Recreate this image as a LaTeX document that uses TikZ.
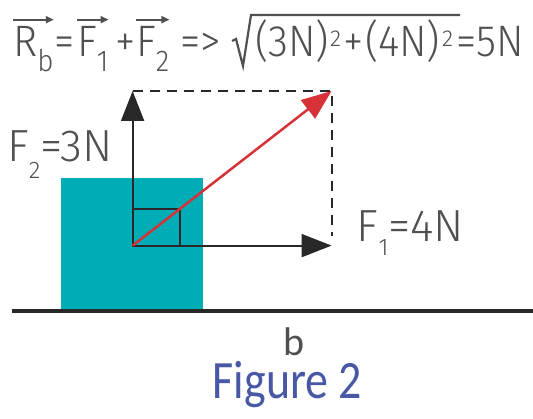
\documentclass[tikz,border=0pt]{standalone}
\usepackage{fontspec}
\usetikzlibrary{arrows.meta}
\newfontfamily\dinfont{Fira Sans Light}
\newfontfamily\calfont{Carlito}
\definecolor{textgray}{RGB}{80,80,80}
\definecolor{linegray}{RGB}{40,40,40}
\definecolor{boxteal}{RGB}{0,172,182}
\definecolor{vecred}{RGB}{214,50,56}
\definecolor{figblue}{RGB}{72,88,165}
\newcommand\dsub[3]{\raisebox{#1}{\fontsize{#2}{#2}\selectfont #3}}
\newcommand\nar[1]{\scalebox{0.93}[1]{#1}}
\begin{document}
\begin{tikzpicture}[x=1pt,y=-1pt,
  txt/.style={inner sep=0pt, anchor=base west, text=textgray, font=\dinfont\fontsize{44}{48}\selectfont},
  lbl/.style={inner sep=0pt, anchor=base west, text=textgray, font=\dinfont\fontsize{45}{50}\selectfont},
  vec/.style={draw=textgray, line width=1.8pt, -{Triangle[length=8pt,width=7pt]}},
  force/.style={draw=linegray, line width=2pt, -{Triangle[length=30pt,width=23pt]}},
  res/.style={draw=vecred, line width=2.5pt, -{Triangle[length=30pt,width=23pt]}},
  dashline/.style={draw=linegray, line width=2pt, dash pattern=on 10pt off 7pt},
  rad/.style={draw=textgray, line width=2.2pt, line join=miter}]
\useasboundingbox (0,0) rectangle (533,419);
% formula
\node[txt] (n1) at (13,57) {\nar{R\dsub{-15pt}{30}{b}}};
\node[txt] (n2) at (54,57) {\nar{=}};
\node[txt] (n3) at (77,57) {\nar{F\dsub{-15pt}{30}{1}}};
\node[txt] (n4) at (115,57) {\nar{+}};
\node[txt] (n5) at (136,57) {\nar{F\dsub{-15pt}{30}{2}}};
\node[txt] (n6) at (180,57) {\nar{=>}};
\node[txt] (n7) at (255,57) {\nar{(3N)}};
\node[txt] (n7s) at (330,57) {\dsub{10pt}{23}{2}};
\node[txt] (n8) at (343,57) {\nar{+}};
\node[txt] (n9) at (365,57) {\nar{(4N)}};
\node[txt] (n9s) at (442,57) {\dsub{10pt}{23}{2}};
\node[txt] (n10) at (456,57) {\nar{=5N}};
\draw[vec] ([yshift=7pt]n1.north west) -- ([yshift=7pt]n1.north east);
\draw[vec] ([yshift=7pt]n3.north west) -- ([yshift=7pt]n3.north east);
\draw[vec] ([yshift=7pt]n5.north west) -- ([yshift=7pt]n5.north east);
\coordinate (r0) at (232,41);
\coordinate (r1) at (236,39);
\coordinate (r2) at (243,66);
\coordinate (r3) at (251,15);
\coordinate (r4) at (460,15);
\draw[rad] (r0) -- (r1) -- (r2) -- (r3) -- (r4);
% block
\node[fill=boxteal, inner sep=0pt, minimum width=142.5pt, minimum height=131pt, anchor=north west] (box) at (60.5,177.6) {};
\coordinate (O) at (132.6,245.6);
\coordinate (U) at (132.6,91);
\coordinate (R) at (331.6,245.6);
\coordinate (C) at (331.6,91);
\coordinate (Cb) at (331.6,236);
\coordinate (S) at (180,208.6);
\coordinate (g0) at (12,311);
\coordinate (g1) at (533,311);
\draw[dashline] (U) -- (C) -- (Cb);
\draw[linegray, line width=2pt] (O) rectangle (S);
\draw[force] (O) -- (U);
\draw[force] (O) -- (R);
\draw[res] (O) -- (C);
\draw[linegray, line width=4pt] (g0) -- (g1);
% labels
\node[lbl] (f2) at (7,161.7) {F\dsub{-16.5pt}{24}{2}=3N};
\node[lbl] (f1) at (356.7,241.7) {F\dsub{-13.5pt}{24}{1}=4N};
\node[inner sep=0pt, anchor=base, text=textgray, font=\calfont\fontsize{40}{44}\selectfont] (b) at (294,356) {b};
\node[inner sep=0pt, anchor=base, text=figblue, font=\calfont\fontsize{54}{58}\selectfont] (fig) at (287.5,398.5) {\scalebox{0.85}[1]{Figure 2}};
\end{tikzpicture}
\end{document}
